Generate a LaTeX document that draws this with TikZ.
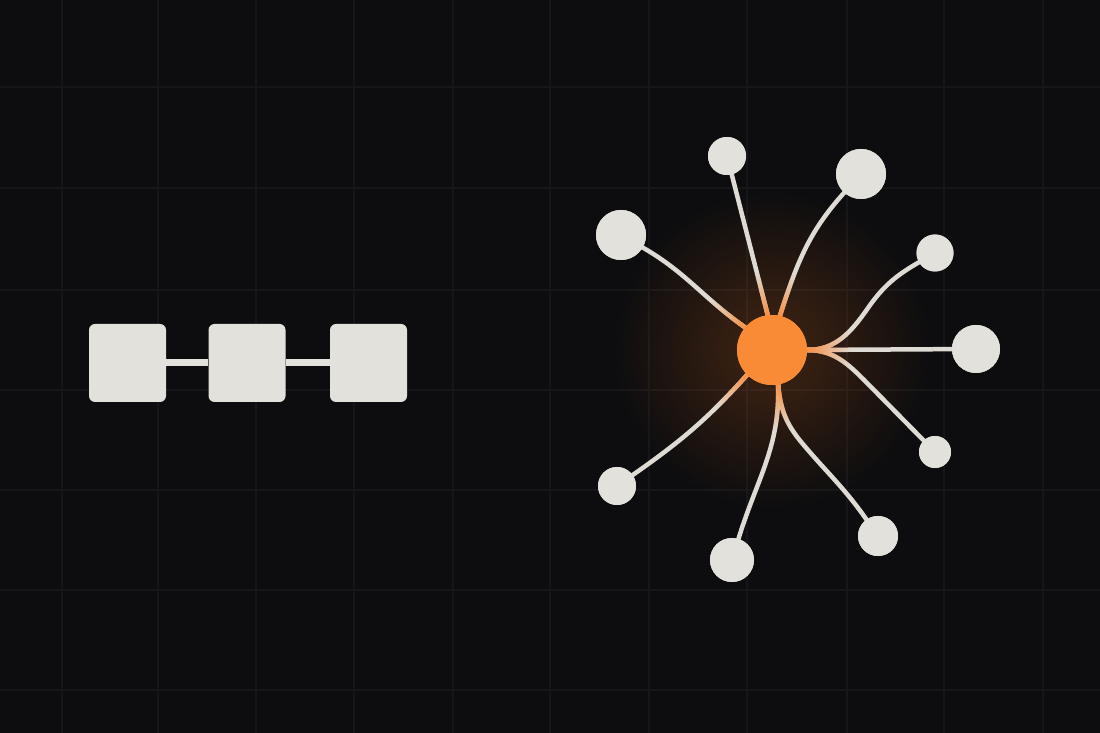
\documentclass[tikz,border=0pt]{standalone}
\usetikzlibrary{fadings}
\definecolor{bgc}{HTML}{0D0D0F}
\definecolor{gridc}{HTML}{161619}
\definecolor{nodec}{HTML}{E3E1DB}
\definecolor{linec}{HTML}{DEDBD4}
\definecolor{hubc}{HTML}{F98A36}
\definecolor{tintc}{HTML}{F6954D}
\definecolor{glowc}{HTML}{FF7A20}
\pgfdeclareradialshading{hubfadeshade}{\pgfpointorigin}{color(0bp)=(white); color(12bp)=(white); color(25bp)=(black); color(50bp)=(black)}
\pgfdeclarefading{hubfade}{\pgfuseshading{hubfadeshade}}
\tikzfading[name=glowfade, inner color=transparent!78, outer color=transparent!100]
\tikzset{
  sq/.style={fill=nodec, rounded corners=6pt, minimum width=77pt, minimum height=78pt, inner sep=0pt},
  sat/.style={circle, fill=nodec, inner sep=0pt, minimum size=#1},
  hubnode/.style={circle, fill=hubc, inner sep=0pt, minimum size=70pt},
  bar/.style={draw=nodec, line width=7pt},
  gridline/.style={draw=gridc, line width=1.2pt},
  conn/.style={draw=linec, line width=4.5pt, line cap=round,
    postaction={draw=tintc, line width=4.5pt, path fading=hubfade, fit fading=false,
      fading transform={shift={(772,383)}, scale=3.2}}}
}
\begin{document}
\begin{tikzpicture}[x=1pt,y=1pt]
\fill[bgc] (0,0) rectangle (1100,733);
\useasboundingbox (0,0) rectangle (1100,733);
% grid
\foreach \gx in {62,158,256,354,453,550,649,747,847,944,1043}
  \draw[gridline] (\gx,0) -- (\gx,733);
\foreach \gy in {646,545,443,343,243,143,43}
  \draw[gridline] (0,\gy) -- (1100,\gy);
% glow
\fill[glowc, path fading=glowfade] (772,383) circle (160);
% chain of squares
\node[sq] (q1) at (127.5,370) {};
\node[sq] (q2) at (247,370) {};
\node[sq] (q3) at (368.5,370) {};
% hub and satellites
\node[hubnode] (hub) at (772,383) {};
\node[sat=50pt] (s1) at (621,498) {};
\node[sat=38pt] (s2) at (727,577) {};
\node[sat=50pt] (s3) at (861,559) {};
\node[sat=37pt] (s4) at (935,480) {};
\node[sat=48pt] (s5) at (976,384) {};
\node[sat=32pt] (s6) at (935,281) {};
\node[sat=40pt] (s7) at (878,197) {};
\node[sat=44pt] (s8) at (732,173) {};
\node[sat=38pt] (s9) at (617,247) {};
% bars between squares
\draw[bar] (q1.east) -- (q2.west);
\draw[bar] (q2.east) -- (q3.west);
% connectors
\draw[conn] (hub.140) to[out=145, in=-30] (s1);
\draw[conn] (hub.97) -- (s2);
\draw[conn] (hub.77) to[out=72, in=-132] (s3);
\draw[conn] (hub.east) -- (s5);
\draw[conn] (hub.east) to[out=0, in=-125] (868,425) to[out=55, in=-150] (s4);
\draw[conn] (hub.east) to[out=0, in=135] (872,345) -- (s6);
\draw[conn] (hub.-80) to[out=-88, in=73] (s8);
\draw[conn] (hub.-80) to[out=-85, in=130] (802,290) to[out=-50, in=125] (s7);
\draw[conn] (hub.-135) to[out=-132, in=35] (s9);
% redraw nodes on top
\node[hubnode] at (hub) {};
\node[sat=50pt] at (s1) {};
\node[sat=38pt] at (s2) {};
\node[sat=50pt] at (s3) {};
\node[sat=37pt] at (s4) {};
\node[sat=48pt] at (s5) {};
\node[sat=32pt] at (s6) {};
\node[sat=40pt] at (s7) {};
\node[sat=44pt] at (s8) {};
\node[sat=38pt] at (s9) {};
\end{tikzpicture}
\end{document}
